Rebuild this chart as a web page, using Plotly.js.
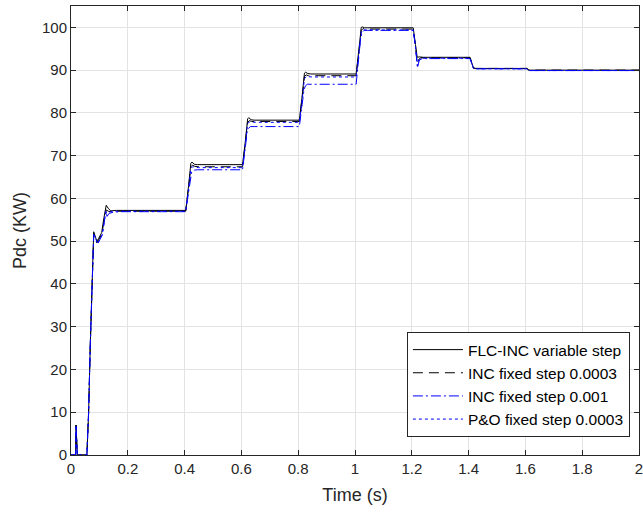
<!DOCTYPE html>
<html>
<head>
<meta charset="utf-8">
<script src="https://cdn.plot.ly/plotly-3.0.1.min.js"></script>
<style>html,body{margin:0;padding:0;background:#fff;}#chart{width:643px;height:512px;}</style>
</head>
<body>
<div id="chart"></div>
<script>
// Series names
const seriesNames = ["FLC-INC variable step", "INC fixed step 0.0003", "INC fixed step 0.001", "P&O fixed step 0.0003"];

// FLC-INC variable step (black solid)
const tFLC = [0, 0.016, 0.018, 0.020, 0.022, 0.056, 0.062, 0.068, 0.074, 0.080, 0.085, 0.091, 0.097, 0.103, 0.108, 0.116, 0.124, 0.132, 0.140, 0.160,
  0.400, 0.404, 0.414, 0.422, 0.426, 0.434, 0.445,
  0.600, 0.604, 0.614, 0.622, 0.626, 0.634, 0.645,
  0.800, 0.804, 0.814, 0.822, 0.826, 0.834, 0.845,
  1.000, 1.004, 1.014, 1.022, 1.026, 1.034, 1.045,
  1.200, 1.205, 1.213, 1.219, 1.226, 1.240,
  1.400, 1.405, 1.417, 1.425,
  1.600, 1.605, 1.612, 2.000];
const pFLC = [0, 0, 7, 0, 0, 0, 10, 26, 42, 52.2, 51.2, 50.0, 50.6, 51.4, 52.0, 55.5, 58.4, 57.6, 57.1, 57.2,
  57.2, 57.2, 63.0, 68.2, 68.5, 68.0, 67.9,
  67.9, 67.9, 73.5, 78.6, 78.9, 78.4, 78.3,
  78.3, 78.3, 84.0, 89.3, 89.5, 89.2, 89.1,
  89.1, 89.1, 95.0, 100.0, 100.1, 99.9, 99.9,
  99.9, 99.9, 96.0, 93.0, 93.1, 93.0,
  93.0, 93.0, 90.5, 90.4,
  90.4, 90.4, 90.0, 90.0];

// INC fixed step 0.0003 (black dashed)
const tINC3 = [0, 0.016, 0.018, 0.020, 0.022, 0.056, 0.062, 0.068, 0.074, 0.080, 0.085, 0.091, 0.097, 0.103, 0.108, 0.116, 0.124, 0.132, 0.140, 0.160,
  0.400, 0.404, 0.414, 0.422, 0.428, 0.436, 0.450,
  0.600, 0.604, 0.614, 0.622, 0.628, 0.636, 0.650,
  0.800, 0.804, 0.814, 0.822, 0.828, 0.836, 0.850,
  1.000, 1.004, 1.014, 1.022, 1.028, 1.036, 1.050,
  1.200, 1.205, 1.213, 1.219, 1.224, 1.232, 1.245,
  1.400, 1.405, 1.417, 1.425,
  1.600, 1.605, 1.612, 2.000];
const pINC3 = [0, 0, 7, 0, 0, 0, 10, 26, 42, 51.8, 51.0, 49.6, 50.3, 51.0, 51.6, 54.5, 57.3, 57.0, 56.9, 57.0,
  57.0, 57.0, 62.5, 67.4, 67.8, 67.5, 67.4,
  67.4, 67.4, 73.0, 77.8, 78.2, 78.0, 78.0,
  78.0, 78.0, 83.5, 88.5, 88.9, 88.7, 88.7,
  88.7, 88.7, 94.5, 99.3, 99.7, 99.6, 99.6,
  99.6, 99.6, 95.5, 91.5, 92.5, 92.9, 92.9,
  92.9, 92.9, 90.5, 90.4,
  90.4, 90.4, 90.0, 90.0];

// INC fixed step 0.001 (blue dash-dot)
const tINC1 = [0, 0.016, 0.018, 0.020, 0.022, 0.056, 0.062, 0.068, 0.074, 0.080, 0.086, 0.093, 0.099, 0.105, 0.110, 0.116, 0.122, 0.127, 0.134, 0.150, 0.180,
  0.400, 0.404, 0.414, 0.420, 0.425, 0.432, 0.445,
  0.600, 0.604, 0.614, 0.620, 0.625, 0.632, 0.645,
  0.800, 0.804, 0.814, 0.820, 0.825, 0.832, 0.845,
  1.000, 1.004, 1.014, 1.020, 1.025, 1.032, 1.045,
  1.200, 1.205, 1.213, 1.220, 1.226, 1.236, 1.250,
  1.400, 1.405, 1.417, 1.425,
  1.600, 1.605, 1.612, 2.000];
const pINC1 = [0, 0, 7, 0, 0, 0, 10, 26, 42, 51.5, 50.8, 49.3, 50.0, 50.8, 51.5, 54.0, 57.0, 55.8, 56.5, 56.8, 56.9,
  56.9, 56.9, 61.5, 64.8, 66.2, 66.6, 66.7,
  66.7, 66.7, 72.0, 75.5, 76.4, 76.8, 76.8,
  76.8, 76.8, 82.0, 85.2, 86.3, 86.7, 86.7,
  86.7, 86.7, 93.5, 97.5, 98.8, 99.3, 99.3,
  99.3, 99.3, 95.5, 90.5, 92.3, 92.7, 92.7,
  92.7, 92.7, 90.4, 90.3,
  90.3, 90.3, 89.9, 89.9];

// P&O fixed step 0.0003 (blue dotted)
const tPO = [0, 0.016, 0.018, 0.020, 0.022, 0.056, 0.062, 0.068, 0.074, 0.080, 0.086, 0.093, 0.099, 0.105, 0.110, 0.118, 0.124, 0.130, 0.140, 0.160,
  0.400, 0.404, 0.414, 0.422, 0.428, 0.436, 0.450,
  0.600, 0.604, 0.614, 0.622, 0.628, 0.636, 0.650,
  0.800, 0.804, 0.814, 0.822, 0.828, 0.836, 0.850,
  1.000, 1.004, 1.014, 1.022, 1.028, 1.036, 1.050,
  1.200, 1.205, 1.213, 1.220, 1.226, 1.236, 1.250,
  1.400, 1.405, 1.417, 1.425,
  1.600, 1.605, 1.612, 2.000];
const pPO = [0, 0, 7, 0, 0, 0, 10, 26, 42, 51.6, 50.9, 49.4, 50.1, 50.9, 51.5, 55.0, 56.8, 56.6, 56.9, 57.0,
  57.0, 57.0, 62.3, 67.0, 67.4, 67.3, 67.2,
  67.2, 67.2, 72.8, 77.5, 77.9, 77.8, 77.8,
  77.8, 77.8, 83.2, 88.0, 88.5, 88.4, 88.4,
  88.4, 88.4, 94.3, 99.0, 99.4, 99.4, 99.4,
  99.4, 99.4, 95.5, 91.0, 92.4, 92.8, 92.8,
  92.8, 92.8, 90.5, 90.3,
  90.3, 90.3, 89.9, 89.9];

const xTicks = [0, 0.2, 0.4, 0.6, 0.8, 1, 1.2, 1.4, 1.6, 1.8, 2];
const yTicks = [0, 10, 20, 30, 40, 50, 60, 70, 80, 90, 100];

const traces = [
  {x: tFLC, y: pFLC, name: seriesNames[0], mode: 'lines', line: {color: '#000000', width: 1, dash: 'solid'}},
  {x: tINC3, y: pINC3, name: seriesNames[1], mode: 'lines', line: {color: '#000000', width: 1, dash: '10px,6px'}},
  {x: tINC1, y: pINC1, name: seriesNames[2], mode: 'lines', line: {color: '#0000ff', width: 1, dash: '10px,3px,2px,3px'}},
  {x: tPO, y: pPO, name: seriesNames[3], mode: 'lines', line: {color: '#0000ff', width: 1, dash: 'dot'}}
];

const font = "'Liberation Sans', Arial, Helvetica, sans-serif";
const layout = {
  width: 643, height: 512,
  margin: {l: 71, r: 4, t: 6, b: 57},
  paper_bgcolor: '#ffffff', plot_bgcolor: '#ffffff',
  font: {family: font, size: 15, color: '#262626'},
  showlegend: true,
  legend: {
    x: 0.984, y: 0.04, xanchor: 'right', yanchor: 'bottom',
    bgcolor: '#ffffff', bordercolor: '#262626', borderwidth: 1,
    font: {family: font, size: 15.5, color: '#000000'},
    itemwidth: 50,
    tracegroupgap: 0
  },
  xaxis: {
    range: [0, 2], tickvals: xTicks, ticktext: xTicks.map(String),
    ticks: 'inside', ticklen: 5, tickcolor: '#262626', mirror: 'ticks',
    showline: true, linecolor: '#262626', linewidth: 1,
    showgrid: true, gridcolor: '#e3e3e3', zeroline: false,
    ticklabeloverflow: 'allow',
    tickfont: {family: font, size: 15, color: '#262626'},
    title: {text: 'Time (s)', font: {family: font, size: 18, color: '#262626'}, standoff: 12}
  },
  yaxis: {
    range: [0, 105], tickvals: yTicks, ticktext: yTicks.map(String),
    ticks: 'inside', ticklen: 5, tickcolor: '#262626', mirror: 'ticks',
    showline: true, linecolor: '#262626', linewidth: 1,
    showgrid: true, gridcolor: '#e3e3e3', zeroline: false,
    tickfont: {family: font, size: 15, color: '#262626'},
    title: {text: 'Pdc (KW)', font: {family: font, size: 18, color: '#262626'}, standoff: 10}
  }
};

Plotly.newPlot('chart', traces, layout, {staticPlot: true, displayModeBar: false});
</script>
</body>
</html>
